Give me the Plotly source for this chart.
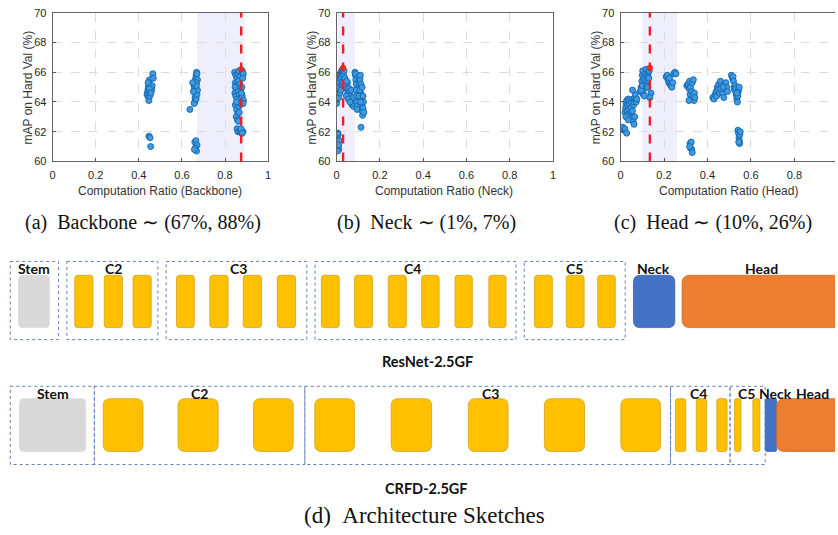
import plotly.graph_objects as go

W, H = 838, 535

# ------------------------------------------------------------------ data
backbone_x = [0.438, 0.440, 0.442, 0.444, 0.446, 0.448, 0.450, 0.445, 0.447, 0.452, 0.455, 0.458,
              0.460, 0.462, 0.449, 0.443, 0.451, 0.456, 0.465, 0.467, 0.447, 0.452, 0.455,
              0.655, 0.658, 0.660, 0.662, 0.664, 0.666, 0.668, 0.670, 0.672, 0.668, 0.665, 0.663,
              0.661, 0.659, 0.657, 0.666, 0.670, 0.672, 0.667, 0.650, 0.653, 0.637, 0.660, 0.665,
              0.670, 0.662, 0.668, 0.658,
              0.845, 0.850, 0.855, 0.860, 0.865, 0.870, 0.880, 0.885, 0.848, 0.852, 0.858, 0.862,
              0.868, 0.872, 0.878, 0.882, 0.846, 0.850, 0.856, 0.860, 0.866, 0.874, 0.880, 0.886,
              0.848, 0.854, 0.858, 0.864, 0.870, 0.876, 0.884, 0.852, 0.858, 0.862, 0.866, 0.856,
              0.860, 0.870, 0.878, 0.884, 0.874, 0.880, 0.847, 0.853, 0.876]
backbone_y = [64.5, 64.6, 64.8, 65.0, 65.2, 65.4, 65.5, 64.3, 64.1, 64.7, 64.9, 65.0,
              64.8, 65.1, 64.9, 65.3, 64.4, 64.6, 65.9, 65.6, 61.7, 61.6, 61.0,
              65.2, 65.0, 64.8, 65.4, 65.6, 65.8, 66.0, 65.9, 65.5, 65.3, 64.9, 64.6,
              64.3, 64.0, 63.9, 64.2, 64.5, 64.8, 65.1, 65.3, 64.7, 63.5, 61.3, 61.4,
              61.1, 60.9, 60.7, 60.8,
              66.0, 65.8, 65.6, 65.9, 66.1, 65.7, 66.1, 65.9, 65.3, 65.1, 64.9, 65.4,
              65.2, 64.8, 65.0, 65.6, 64.6, 64.4, 64.2, 64.7, 64.5, 64.3, 64.4, 64.1,
              63.8, 63.5, 63.2, 63.7, 63.9, 63.9, 63.9, 63.0, 62.8, 62.7, 63.3, 62.2,
              62.0, 62.0, 61.9, 62.0, 62.2, 61.9, 65.0, 64.0, 64.6]

neck_x = [0.003, 0.005, 0.007, 0.008, 0.010, 0.012, 0.006, 0.004, 0.009,
          0.000, 0.002, 0.004, 0.006, 0.008, 0.010, 0.012, 0.014, 0.016, 0.018, 0.020, 0.022,
          0.024, 0.026, 0.028, 0.030, 0.032, 0.034, 0.036, 0.000, 0.010, 0.015, 0.020, 0.025,
          0.030, 0.038,
          0.040, 0.044, 0.048, 0.050, 0.052, 0.055, 0.058, 0.060, 0.063, 0.066, 0.068, 0.070,
          0.072, 0.075, 0.078, 0.080, 0.045, 0.054, 0.062, 0.046,
          0.085, 0.087, 0.089, 0.091, 0.090, 0.092, 0.093, 0.094, 0.095, 0.088,
          0.102, 0.104, 0.106, 0.108, 0.110, 0.112, 0.112, 0.114, 0.116, 0.118, 0.120, 0.122,
          0.124, 0.126, 0.108, 0.110, 0.113, 0.104, 0.118, 0.122]
neck_y = [61.5, 61.2, 61.8, 61.0, 60.8, 61.4, 61.9, 60.7, 61.1,
          64.4, 64.7, 64.5, 64.9, 65.2, 65.0, 65.5, 65.3, 65.8, 65.6, 66.0, 65.7,
          66.1, 65.9, 66.2, 66.0, 65.8, 66.1, 65.5, 63.9, 64.3, 64.6, 64.8, 65.2,
          65.3, 65.6,
          65.3, 65.1, 64.9, 65.3, 64.7, 64.5, 64.9, 64.6, 64.4, 64.2, 64.8, 64.0,
          63.8, 64.3, 63.7, 63.9, 64.4, 64.2, 64.0, 65.4,
          66.0, 65.8, 65.5, 65.2, 64.8, 64.4, 64.0, 63.7, 63.5, 65.9,
          65.7, 65.4, 65.1, 65.5, 65.8, 65.2, 64.6, 64.2, 63.8, 63.4, 63.1, 63.6,
          64.0, 63.3, 64.8, 64.0, 62.3, 64.4, 65.0, 64.4]

head_x = [0.005, 0.010, 0.015, 0.020, 0.028,
          0.020, 0.023, 0.025, 0.028, 0.030, 0.033, 0.035, 0.038, 0.040, 0.042, 0.045, 0.048,
          0.050, 0.052, 0.055, 0.058, 0.060, 0.062, 0.065, 0.068, 0.070, 0.072, 0.075, 0.030,
          0.040, 0.050, 0.058, 0.062, 0.065, 0.055, 0.025, 0.035,
          0.090, 0.095, 0.098, 0.100, 0.102, 0.105, 0.108, 0.110, 0.112, 0.115, 0.118, 0.120,
          0.122, 0.125, 0.128, 0.130, 0.132, 0.105, 0.110, 0.115, 0.095, 0.100, 0.120, 0.140,
          0.135, 0.125,
          0.210, 0.215, 0.218, 0.222, 0.225, 0.228, 0.232, 0.236, 0.240, 0.245, 0.250, 0.255,
          0.305, 0.310, 0.315, 0.318, 0.320, 0.322, 0.325, 0.328, 0.330, 0.332, 0.335, 0.338,
          0.340, 0.342, 0.315, 0.320, 0.322, 0.325, 0.328, 0.330, 0.318,
          0.425, 0.430, 0.435, 0.440, 0.442, 0.445, 0.448, 0.452, 0.455, 0.460, 0.465, 0.470,
          0.475, 0.478, 0.480, 0.485, 0.488, 0.492, 0.462, 0.472,
          0.510, 0.515, 0.518, 0.520, 0.522, 0.525, 0.528, 0.530, 0.532, 0.535, 0.538, 0.540,
          0.542, 0.544, 0.546, 0.536, 0.540, 0.543, 0.545, 0.547, 0.549, 0.551, 0.548, 0.544]
head_y = [62.2, 62.3, 62.1, 62.2, 61.9,
          63.3, 63.6, 63.9, 64.1, 63.4, 63.8, 64.2, 63.5, 63.9, 64.1, 63.2, 63.6,
          64.0, 63.0, 63.4, 64.2, 63.8, 64.0, 64.3, 64.5, 64.1, 64.0, 64.2, 63.1,
          63.0, 62.9, 62.7, 62.5, 63.0, 64.8, 63.0, 62.8,
          64.7, 65.0, 65.4, 65.8, 66.1, 65.6, 65.2, 64.9, 65.5, 65.9, 66.2, 65.7,
          65.3, 65.8, 66.0, 65.6, 66.1, 64.5, 64.4, 65.1, 64.8, 65.1, 65.1, 64.6,
          64.3, 65.0,
          65.7, 65.8, 65.5, 65.3, 65.6, 65.2, 65.1, 65.0, 65.3, 65.9, 66.0, 65.9,
          65.1, 65.2, 64.9, 65.4, 64.5, 65.0, 64.2, 64.7, 65.3, 64.4, 65.5, 64.1,
          64.6, 64.3, 64.1, 61.2, 60.9, 61.3, 60.8, 60.6, 61.0,
          64.3, 64.2, 64.5, 64.7, 64.4, 65.0, 64.8, 65.2, 64.6, 65.4, 65.1, 64.6,
          64.3, 64.9, 65.2, 65.3, 65.0, 64.7, 64.9, 65.0,
          65.8, 65.6, 65.7, 65.4, 65.0, 64.8, 65.1, 64.9, 64.5, 64.2, 64.0, 64.4,
          64.7, 64.9, 65.0, 64.6, 62.1, 61.9, 61.6, 61.4, 61.8, 62.0, 61.2, 61.3]

best_x = [0.875, 0.030, 0.135]
best_y = [66.2, 66.3, 66.3]
band_lo = [0.67, 0.005, 0.10]
band_hi = [0.89, 0.085, 0.26]

x_titles = ["Computation Ratio (Backbone)", "Computation Ratio (Neck)", "Computation Ratio (Head)"]
y_title = "mAP on Hard Val (%)"
captions = ["(a)\u00a0\u00a0Backbone\u00a0\u223c\u00a0(67%,\u00a088%)",
            "(b)\u00a0\u00a0Neck\u00a0\u223c\u00a0(1%,\u00a07%)",
            "(c)\u00a0\u00a0Head\u00a0\u223c\u00a0(10%,\u00a026%)"]
x_tick_vals = [0, 0.2, 0.4, 0.6, 0.8, 1]
x_tick_text = ["0", "0.2", "0.4", "0.6", "0.8", "1"]
y_tick_vals = [60, 62, 64, 66, 68, 70]

resnet_name = "ResNet-2.5GF"
crfd_name = "CRFD-2.5GF"
sketch_caption = "(d)\u00a0\u00a0Architecture Sketches"

# ------------------------------------------------------------------ layout geometry (pixels)
plot_left = [50, 336, 622]
plot_right = [267, 554, 838]
plot_top, plot_bottom = 7, 159
x_range_max = [1.0, 1.0, 0.987]
right_border = [True, True, False]
caption_cx = [141, 427, 715]
caption_cy = 221

res_box_y = (261.3, 341.3)
res_blk_y = (275.5, 329)
res_boxes = [(7.3, 56), (64.3, 156), (164.3, 306), (314.3, 516.7), (525, 626.7)]
res_blocks = [(15.7, 46.7, "stem"),
              (72.3, 90.7, "blk"), (102, 120.3, "blk"), (131, 149.3, "blk"),
              (174.7, 192.7, "blk"), (208.3, 226.7, "blk"), (242, 260.3, "blk"), (276.3, 294.7, "blk"),
              (320.7, 338.7, "blk"), (354, 372.3, "blk"), (388, 406.3, "blk"),
              (421.7, 439.3, "blk"), (455.3, 472.7, "blk"), (489.3, 506.7, "blk"),
              (535.3, 553.3, "blk"), (567.3, 585.3, "blk"), (599, 616.7, "blk"),
              (635, 676.7, "neck"), (684, 900, "head")]
res_labels = [("Stem", 31), ("C2", 111), ("C3", 237), ("C4", 412), ("C5", 576),
              ("Neck", 655), ("Head", 764)]
res_label_y = 269
res_name_pos = (428, 364)

crfd_box_y = (389, 469)
crfd_blk_y = (401.7, 455.7)
crfd_boxes = [(7.3, 92), (92, 304), (304, 672.3), (672.3, 732.3), (732.3, 767.7)]
crfd_blocks = [(16.7, 83.3, "stem"),
               (101, 141, "big"), (176.3, 216.7, "big"), (252.3, 292.3, "big"),
               (314, 354, "big"), (391, 431.7, "big"), (468.7, 508.7, "big"),
               (545.3, 585.7, "big"), (622.3, 662.3, "big"),
               (677.3, 687.7, "thin"), (698.3, 708.7, "thin"), (719, 729.3, "thin"),
               (736.7, 743.3, "thin"), (755.3, 762.3, "thin"),
               (767.7, 779.3, "neckthin"), (779.3, 900, "head")]
crfd_labels = [("Stem", 50), ("C2", 198), ("C3", 491), ("C4", 701), ("C5", 749),
               ("Neck", 778), ("Head", 815)]
crfd_label_y = 396
crfd_name_pos = (427, 494)
sketch_caption_pos = (425, 521)

block_style = {
    "stem": dict(fill="#D9D9D9", line="#D9D9D9", r=4),
    "blk": dict(fill="#FFC000", line="#D6A21A", r=3),
    "big": dict(fill="#FFC000", line="#D6A21A", r=7),
    "thin": dict(fill="#FFC000", line="#D6A21A", r=2),
    "neck": dict(fill="#4472C4", line="#3A62AA", r=7),
    "neckthin": dict(fill="#4472C4", line="#3A62AA", r=2),
    "head": dict(fill="#ED7D31", line="#D06A25", r=8),
}


def px_x(px):
    return px / W


def px_y(py):
    return 1 - py / H


def rrect(x0, y0, x1, y1, r):
    return (f"M {x0 + r},{y0} L {x1 - r},{y0} Q {x1},{y0} {x1},{y0 + r} "
            f"L {x1},{y1 - r} Q {x1},{y1} {x1 - r},{y1} L {x0 + r},{y1} "
            f"Q {x0},{y1} {x0},{y1 - r} L {x0},{y0 + r} Q {x0},{y0} {x0 + r},{y0} Z")


fig = go.Figure()

series = [(backbone_x, backbone_y), (neck_x, neck_y), (head_x, head_y)]
axis_font = dict(family="Liberation Sans, Arial, sans-serif", size=11, color="#262626")
title_font = dict(family="Liberation Sans, Arial, sans-serif", size=12, color="#333")
annotations = []
shapes = []

for i, (xs, ys) in enumerate(series):
    xa = "x" if i == 0 else f"x{i + 1}"
    ya = "y" if i == 0 else f"y{i + 1}"
    fig.add_trace(go.Scatter(x=xs, y=ys, mode="markers", xaxis=xa, yaxis=ya, showlegend=False,
                             marker=dict(size=6, color="#3E9BE0",
                                         line=dict(color="#1263AE", width=0.9))))
    fig.add_trace(go.Scatter(x=[best_x[i]], y=[best_y[i]], mode="markers", xaxis=xa, yaxis=ya,
                             showlegend=False,
                             marker=dict(size=5.5, color="#E8452C",
                                         line=dict(color="#C0301E", width=0.8))))
    lay_x = "xaxis" if i == 0 else f"xaxis{i + 1}"
    lay_y = "yaxis" if i == 0 else f"yaxis{i + 1}"
    fig.layout[lay_x] = dict(
        domain=[px_x(plot_left[i]), px_x(plot_right[i])], range=[0, x_range_max[i]],
        anchor=ya, tickvals=x_tick_vals, ticktext=x_tick_text, ticks="inside", ticklen=3,
        tickcolor="#555", showline=True, linecolor="#666", linewidth=1, mirror=True,
        showgrid=True, gridcolor="#DCDCDC", griddash="dash", gridwidth=1, zeroline=False,
        tickfont=axis_font, ticklabelstandoff=3)
    fig.layout[lay_y] = dict(
        domain=[px_y(plot_bottom), px_y(plot_top)], range=[60, 70], anchor=xa,
        tickvals=y_tick_vals, ticks="inside", ticklen=3, tickcolor="#555",
        showline=True, linecolor="#666", linewidth=1, mirror=right_border[i],
        showgrid=True, gridcolor="#DCDCDC", griddash="dash", gridwidth=1, zeroline=False,
        tickfont=axis_font, ticklabelstandoff=3, ticklabeloverflow="allow")
    shapes.append(dict(type="rect", xref=xa, yref=f"{ya} domain", x0=band_lo[i], x1=band_hi[i],
                       y0=0, y1=1, fillcolor="rgba(232,232,252,0.75)", line_width=0, layer="below"))
    shapes.append(dict(type="line", xref=xa, yref=f"{ya} domain", x0=best_x[i], x1=best_x[i],
                       y0=0, y1=1, line=dict(color="#F01E23", width=2.4, dash="dash"),
                       layer="above"))
    annotations.append(dict(text=x_titles[i], xref="paper", yref="paper",
                            x=px_x((plot_left[i] + plot_left[i] + 217) / 2), y=px_y(189),
                            showarrow=False, xanchor="center", yanchor="middle", font=title_font))
    annotations.append(dict(text=y_title, xref="paper", yref="paper",
                            x=px_x(plot_left[i] - 24.5), y=px_y((plot_top + plot_bottom) / 2),
                            textangle=-90, showarrow=False, xanchor="center", yanchor="middle",
                            font=title_font))
    annotations.append(dict(text=captions[i], xref="paper", yref="paper",
                            x=px_x(caption_cx[i]), y=px_y(caption_cy), showarrow=False,
                            xanchor="center", yanchor="middle",
                            font=dict(family="Liberation Serif, Times New Roman, serif", size=20,
                                      color="#111")))

fig.add_trace(go.Scatter(x=[], y=[], xaxis="x4", yaxis="y4", showlegend=False))
fig.layout["xaxis4"] = dict(domain=[0, 1], range=[0, W], visible=False, anchor="y4",
                            fixedrange=True)
fig.layout["yaxis4"] = dict(domain=[0, 1], range=[H, 0], visible=False, anchor="x4",
                            fixedrange=True)

label_font = dict(family="Lato, Open Sans, sans-serif", size=14, color="#111")


def add_row(boxes, box_y, blocks, blk_y, labels, label_y):
    for (x0, x1) in boxes:
        shapes.append(dict(type="rect", xref="x4", yref="y4", x0=x0, x1=x1, y0=box_y[0],
                           y1=box_y[1], line=dict(color="#5F7DB8", width=1, dash="dot"),
                           fillcolor="rgba(0,0,0,0)", layer="above"))
    for (x0, x1, kind) in blocks:
        st = block_style[kind]
        r = min(st["r"], (x1 - x0) / 2)
        shapes.append(dict(type="path", xref="x4", yref="y4",
                           path=rrect(x0, blk_y[0], x1, blk_y[1], r),
                           fillcolor=st["fill"], line=dict(color=st["line"], width=0.8),
                           layer="above"))
    for (txt, x) in labels:
        annotations.append(dict(text=f"<b>{txt}</b>", xref="x4", yref="y4", x=x, y=label_y,
                                showarrow=False, xanchor="center", yanchor="middle",
                                font=label_font))


add_row(res_boxes, res_box_y, res_blocks, res_blk_y, res_labels, res_label_y)
add_row(crfd_boxes, crfd_box_y, crfd_blocks, crfd_blk_y, crfd_labels, crfd_label_y)

for txt, (x, y) in [(resnet_name, res_name_pos), (crfd_name, crfd_name_pos)]:
    annotations.append(dict(text=f"<b>{txt}</b>", xref="x4", yref="y4", x=x, y=y,
                            showarrow=False, xanchor="center", yanchor="middle",
                            font=dict(family="Lato, Open Sans, sans-serif", size=14.5,
                                      color="#111")))
annotations.append(dict(text=sketch_caption, xref="x4", yref="y4", x=sketch_caption_pos[0],
                        y=sketch_caption_pos[1], showarrow=False, xanchor="center",
                        yanchor="middle",
                        font=dict(family="Liberation Serif, Times New Roman, serif", size=23,
                                  color="#111")))

fig.update_layout(width=W, height=H, margin=dict(l=0, r=0, t=0, b=0),
                  paper_bgcolor="white", plot_bgcolor="rgba(0,0,0,0)",
                  shapes=shapes, annotations=annotations, showlegend=False)

fig.write_html("out.html", config={"displayModeBar": False},
               post_script="document.documentElement.style.overflow='hidden';"
                           "document.body.style.margin='0px';"
                           "document.body.style.overflow='hidden';"
                           "var gd=document.getElementById('{plot_id}');"
                           "gd.style.overflow='hidden';")
